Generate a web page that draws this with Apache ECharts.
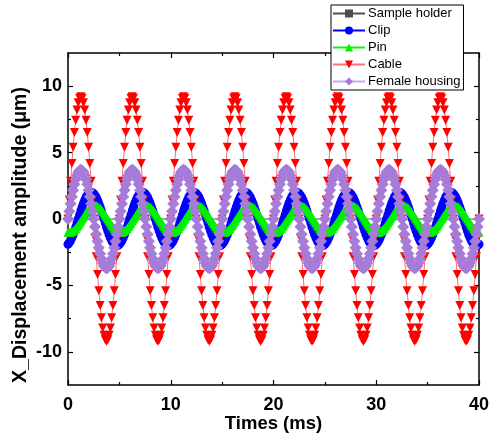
<!DOCTYPE html>
<html>
<head>
<meta charset="utf-8">
<script src="https://cdn.jsdelivr.net/npm/echarts@6/dist/echarts.min.js"></script>
<style>
html,body{margin:0;padding:0;background:#fff;}
#chart{width:490px;height:436px;}
</style>
</head>
<body>
<div id="chart"></div>
<script>
// Sampling grid (ms)
const tStart = 0;
const tStep = 0.125;
const nPoints = 321;

const seriesNames = ['Sample holder', 'Clip', 'Pin', 'Cable', 'Female housing'];

const sampleHolder = [
0,0,0,0,0,0,0,0,0,0,0,0,0,0,0,0,0,0,0,0,0,0,0,0,0,0,0,0,0,0,0,0,0,0,0,0,0,0,0,0,
0,0,0,0,0,0,0,0,0,0,0,0,0,0,0,0,0,0,0,0,0,0,0,0,0,0,0,0,0,0,0,0,0,0,0,0,0,0,0,0,
0,0,0,0,0,0,0,0,0,0,0,0,0,0,0,0,0,0,0,0,0,0,0,0,0,0,0,0,0,0,0,0,0,0,0,0,0,0,0,0,
0,0,0,0,0,0,0,0,0,0,0,0,0,0,0,0,0,0,0,0,0,0,0,0,0,0,0,0,0,0,0,0,0,0,0,0,0,0,0,0,
0,0,0,0,0,0,0,0,0,0,0,0,0,0,0,0,0,0,0,0,0,0,0,0,0,0,0,0,0,0,0,0,0,0,0,0,0,0,0,0,
0,0,0,0,0,0,0,0,0,0,0,0,0,0,0,0,0,0,0,0,0,0,0,0,0,0,0,0,0,0,0,0,0,0,0,0,0,0,0,0,
0,0,0,0,0,0,0,0,0,0,0,0,0,0,0,0,0,0,0,0,0,0,0,0,0,0,0,0,0,0,0,0,0,0,0,0,0,0,0,0,
0,0,0,0,0,0,0,0,0,0,0,0,0,0,0,0,0,0,0,0,0,0,0,0,0,0,0,0,0,0,0,0,0,0,0,0,0,0,0,0,
0];

const clip = [
-1.9,-1.78,-1.62,-1.41,-1.18,-0.91,-0.62,-0.31,0,0.31,0.62,0.91,1.18,1.41,1.62,1.78,1.9,1.98,2,1.98,1.9,1.78,1.62,1.41,1.18,0.91,0.62,0.31,0,-0.31,-0.62,-0.91,-1.18,-1.41,-1.62,-1.78,-1.9,-1.98,-2,-1.98,
-1.9,-1.78,-1.62,-1.41,-1.18,-0.91,-0.62,-0.31,0,0.31,0.62,0.91,1.18,1.41,1.62,1.78,1.9,1.98,2,1.98,1.9,1.78,1.62,1.41,1.18,0.91,0.62,0.31,0,-0.31,-0.62,-0.91,-1.18,-1.41,-1.62,-1.78,-1.9,-1.98,-2,-1.98,
-1.9,-1.78,-1.62,-1.41,-1.18,-0.91,-0.62,-0.31,0,0.31,0.62,0.91,1.18,1.41,1.62,1.78,1.9,1.98,2,1.98,1.9,1.78,1.62,1.41,1.18,0.91,0.62,0.31,0,-0.31,-0.62,-0.91,-1.18,-1.41,-1.62,-1.78,-1.9,-1.98,-2,-1.98,
-1.9,-1.78,-1.62,-1.41,-1.18,-0.91,-0.62,-0.31,0,0.31,0.62,0.91,1.18,1.41,1.62,1.78,1.9,1.98,2,1.98,1.9,1.78,1.62,1.41,1.18,0.91,0.62,0.31,0,-0.31,-0.62,-0.91,-1.18,-1.41,-1.62,-1.78,-1.9,-1.98,-2,-1.98,
-1.9,-1.78,-1.62,-1.41,-1.18,-0.91,-0.62,-0.31,0,0.31,0.62,0.91,1.18,1.41,1.62,1.78,1.9,1.98,2,1.98,1.9,1.78,1.62,1.41,1.18,0.91,0.62,0.31,0,-0.31,-0.62,-0.91,-1.18,-1.41,-1.62,-1.78,-1.9,-1.98,-2,-1.98,
-1.9,-1.78,-1.62,-1.41,-1.18,-0.91,-0.62,-0.31,0,0.31,0.62,0.91,1.18,1.41,1.62,1.78,1.9,1.98,2,1.98,1.9,1.78,1.62,1.41,1.18,0.91,0.62,0.31,0,-0.31,-0.62,-0.91,-1.18,-1.41,-1.62,-1.78,-1.9,-1.98,-2,-1.98,
-1.9,-1.78,-1.62,-1.41,-1.18,-0.91,-0.62,-0.31,0,0.31,0.62,0.91,1.18,1.41,1.62,1.78,1.9,1.98,2,1.98,1.9,1.78,1.62,1.41,1.18,0.91,0.62,0.31,0,-0.31,-0.62,-0.91,-1.18,-1.41,-1.62,-1.78,-1.9,-1.98,-2,-1.98,
-1.9,-1.78,-1.62,-1.41,-1.18,-0.91,-0.62,-0.31,0,0.31,0.62,0.91,1.18,1.41,1.62,1.78,1.9,1.98,2,1.98,1.9,1.78,1.62,1.41,1.18,0.91,0.62,0.31,0,-0.31,-0.62,-0.91,-1.18,-1.41,-1.62,-1.78,-1.9,-1.98,-2,-1.98,
-1.9];

const pin = [
-0.99,-1,-0.99,-0.95,-0.89,-0.81,-0.71,-0.59,-0.45,-0.31,-0.16,0,0.16,0.31,0.45,0.59,0.71,0.81,0.89,0.95,0.99,1,0.99,0.95,0.89,0.81,0.71,0.59,0.45,0.31,0.16,0,-0.16,-0.31,-0.45,-0.59,-0.71,-0.81,-0.89,-0.95,
-0.99,-1,-0.99,-0.95,-0.89,-0.81,-0.71,-0.59,-0.45,-0.31,-0.16,0,0.16,0.31,0.45,0.59,0.71,0.81,0.89,0.95,0.99,1,0.99,0.95,0.89,0.81,0.71,0.59,0.45,0.31,0.16,0,-0.16,-0.31,-0.45,-0.59,-0.71,-0.81,-0.89,-0.95,
-0.99,-1,-0.99,-0.95,-0.89,-0.81,-0.71,-0.59,-0.45,-0.31,-0.16,0,0.16,0.31,0.45,0.59,0.71,0.81,0.89,0.95,0.99,1,0.99,0.95,0.89,0.81,0.71,0.59,0.45,0.31,0.16,0,-0.16,-0.31,-0.45,-0.59,-0.71,-0.81,-0.89,-0.95,
-0.99,-1,-0.99,-0.95,-0.89,-0.81,-0.71,-0.59,-0.45,-0.31,-0.16,0,0.16,0.31,0.45,0.59,0.71,0.81,0.89,0.95,0.99,1,0.99,0.95,0.89,0.81,0.71,0.59,0.45,0.31,0.16,0,-0.16,-0.31,-0.45,-0.59,-0.71,-0.81,-0.89,-0.95,
-0.99,-1,-0.99,-0.95,-0.89,-0.81,-0.71,-0.59,-0.45,-0.31,-0.16,0,0.16,0.31,0.45,0.59,0.71,0.81,0.89,0.95,0.99,1,0.99,0.95,0.89,0.81,0.71,0.59,0.45,0.31,0.16,0,-0.16,-0.31,-0.45,-0.59,-0.71,-0.81,-0.89,-0.95,
-0.99,-1,-0.99,-0.95,-0.89,-0.81,-0.71,-0.59,-0.45,-0.31,-0.16,0,0.16,0.31,0.45,0.59,0.71,0.81,0.89,0.95,0.99,1,0.99,0.95,0.89,0.81,0.71,0.59,0.45,0.31,0.16,0,-0.16,-0.31,-0.45,-0.59,-0.71,-0.81,-0.89,-0.95,
-0.99,-1,-0.99,-0.95,-0.89,-0.81,-0.71,-0.59,-0.45,-0.31,-0.16,0,0.16,0.31,0.45,0.59,0.71,0.81,0.89,0.95,0.99,1,0.99,0.95,0.89,0.81,0.71,0.59,0.45,0.31,0.16,0,-0.16,-0.31,-0.45,-0.59,-0.71,-0.81,-0.89,-0.95,
-0.99,-1,-0.99,-0.95,-0.89,-0.81,-0.71,-0.59,-0.45,-0.31,-0.16,0,0.16,0.31,0.45,0.59,0.71,0.81,0.89,0.95,0.99,1,0.99,0.95,0.89,0.81,0.71,0.59,0.45,0.31,0.16,0,-0.16,-0.31,-0.45,-0.59,-0.71,-0.81,-0.89,-0.95,
-0.99];

const cable = [
0,1.44,2.84,4.18,5.41,6.51,7.44,8.2,8.75,9.09,9.2,9.09,8.75,8.2,7.44,6.51,5.41,4.18,2.84,1.44,0,-1.44,-2.84,-4.18,-5.41,-6.51,-7.44,-8.2,-8.75,-9.09,-9.2,-9.09,-8.75,-8.2,-7.44,-6.51,-5.41,-4.18,-2.84,-1.44,
0,1.44,2.84,4.18,5.41,6.51,7.44,8.2,8.75,9.09,9.2,9.09,8.75,8.2,7.44,6.51,5.41,4.18,2.84,1.44,0,-1.44,-2.84,-4.18,-5.41,-6.51,-7.44,-8.2,-8.75,-9.09,-9.2,-9.09,-8.75,-8.2,-7.44,-6.51,-5.41,-4.18,-2.84,-1.44,
0,1.44,2.84,4.18,5.41,6.51,7.44,8.2,8.75,9.09,9.2,9.09,8.75,8.2,7.44,6.51,5.41,4.18,2.84,1.44,0,-1.44,-2.84,-4.18,-5.41,-6.51,-7.44,-8.2,-8.75,-9.09,-9.2,-9.09,-8.75,-8.2,-7.44,-6.51,-5.41,-4.18,-2.84,-1.44,
0,1.44,2.84,4.18,5.41,6.51,7.44,8.2,8.75,9.09,9.2,9.09,8.75,8.2,7.44,6.51,5.41,4.18,2.84,1.44,0,-1.44,-2.84,-4.18,-5.41,-6.51,-7.44,-8.2,-8.75,-9.09,-9.2,-9.09,-8.75,-8.2,-7.44,-6.51,-5.41,-4.18,-2.84,-1.44,
0,1.44,2.84,4.18,5.41,6.51,7.44,8.2,8.75,9.09,9.2,9.09,8.75,8.2,7.44,6.51,5.41,4.18,2.84,1.44,0,-1.44,-2.84,-4.18,-5.41,-6.51,-7.44,-8.2,-8.75,-9.09,-9.2,-9.09,-8.75,-8.2,-7.44,-6.51,-5.41,-4.18,-2.84,-1.44,
0,1.44,2.84,4.18,5.41,6.51,7.44,8.2,8.75,9.09,9.2,9.09,8.75,8.2,7.44,6.51,5.41,4.18,2.84,1.44,0,-1.44,-2.84,-4.18,-5.41,-6.51,-7.44,-8.2,-8.75,-9.09,-9.2,-9.09,-8.75,-8.2,-7.44,-6.51,-5.41,-4.18,-2.84,-1.44,
0,1.44,2.84,4.18,5.41,6.51,7.44,8.2,8.75,9.09,9.2,9.09,8.75,8.2,7.44,6.51,5.41,4.18,2.84,1.44,0,-1.44,-2.84,-4.18,-5.41,-6.51,-7.44,-8.2,-8.75,-9.09,-9.2,-9.09,-8.75,-8.2,-7.44,-6.51,-5.41,-4.18,-2.84,-1.44,
0,1.44,2.84,4.18,5.41,6.51,7.44,8.2,8.75,9.09,9.2,9.09,8.75,8.2,7.44,6.51,5.41,4.18,2.84,1.44,0,-1.44,-2.84,-4.18,-5.41,-6.51,-7.44,-8.2,-8.75,-9.09,-9.2,-9.09,-8.75,-8.2,-7.44,-6.51,-5.41,-4.18,-2.84,-1.44,
0];

const femaleHousing = [
0,0.58,1.14,1.68,2.17,2.62,2.99,3.3,3.52,3.65,3.7,3.65,3.52,3.3,2.99,2.62,2.17,1.68,1.14,0.58,0,-0.58,-1.14,-1.68,-2.17,-2.62,-2.99,-3.3,-3.52,-3.65,-3.7,-3.65,-3.52,-3.3,-2.99,-2.62,-2.17,-1.68,-1.14,-0.58,
0,0.58,1.14,1.68,2.17,2.62,2.99,3.3,3.52,3.65,3.7,3.65,3.52,3.3,2.99,2.62,2.17,1.68,1.14,0.58,0,-0.58,-1.14,-1.68,-2.17,-2.62,-2.99,-3.3,-3.52,-3.65,-3.7,-3.65,-3.52,-3.3,-2.99,-2.62,-2.17,-1.68,-1.14,-0.58,
0,0.58,1.14,1.68,2.17,2.62,2.99,3.3,3.52,3.65,3.7,3.65,3.52,3.3,2.99,2.62,2.17,1.68,1.14,0.58,0,-0.58,-1.14,-1.68,-2.17,-2.62,-2.99,-3.3,-3.52,-3.65,-3.7,-3.65,-3.52,-3.3,-2.99,-2.62,-2.17,-1.68,-1.14,-0.58,
0,0.58,1.14,1.68,2.17,2.62,2.99,3.3,3.52,3.65,3.7,3.65,3.52,3.3,2.99,2.62,2.17,1.68,1.14,0.58,0,-0.58,-1.14,-1.68,-2.17,-2.62,-2.99,-3.3,-3.52,-3.65,-3.7,-3.65,-3.52,-3.3,-2.99,-2.62,-2.17,-1.68,-1.14,-0.58,
0,0.58,1.14,1.68,2.17,2.62,2.99,3.3,3.52,3.65,3.7,3.65,3.52,3.3,2.99,2.62,2.17,1.68,1.14,0.58,0,-0.58,-1.14,-1.68,-2.17,-2.62,-2.99,-3.3,-3.52,-3.65,-3.7,-3.65,-3.52,-3.3,-2.99,-2.62,-2.17,-1.68,-1.14,-0.58,
0,0.58,1.14,1.68,2.17,2.62,2.99,3.3,3.52,3.65,3.7,3.65,3.52,3.3,2.99,2.62,2.17,1.68,1.14,0.58,0,-0.58,-1.14,-1.68,-2.17,-2.62,-2.99,-3.3,-3.52,-3.65,-3.7,-3.65,-3.52,-3.3,-2.99,-2.62,-2.17,-1.68,-1.14,-0.58,
0,0.58,1.14,1.68,2.17,2.62,2.99,3.3,3.52,3.65,3.7,3.65,3.52,3.3,2.99,2.62,2.17,1.68,1.14,0.58,0,-0.58,-1.14,-1.68,-2.17,-2.62,-2.99,-3.3,-3.52,-3.65,-3.7,-3.65,-3.52,-3.3,-2.99,-2.62,-2.17,-1.68,-1.14,-0.58,
0,0.58,1.14,1.68,2.17,2.62,2.99,3.3,3.52,3.65,3.7,3.65,3.52,3.3,2.99,2.62,2.17,1.68,1.14,0.58,0,-0.58,-1.14,-1.68,-2.17,-2.62,-2.99,-3.3,-3.52,-3.65,-3.7,-3.65,-3.52,-3.3,-2.99,-2.62,-2.17,-1.68,-1.14,-0.58,
0];

const yTickValues = [-10, -5, 0, 5, 10];
const yMinorTickValues = [-7.5, -2.5, 2.5, 7.5];

const times = [];
for (let i = 0; i < nPoints; i++) times.push(tStart + i * tStep);
const pairs = arr => times.map((t, i) => [t, arr[i]]);

const FONT = 'Liberation Sans, Arial, sans-serif';
const chart = echarts.init(document.getElementById('chart'), null, {renderer: 'canvas'});

function yAx(pos, major, showLabel, withName) {
  return {
    type: 'value', position: pos, min: -12.5, max: 12.5,
    axisLine: {show: major, onZero: false, lineStyle: {color: '#000', width: 1.5}},
    axisTick: {show: true, inside: true, length: major ? 5 : 3,
      customValues: major ? yTickValues : yMinorTickValues,
      lineStyle: {color: '#000', width: 1.2}},
    axisLabel: showLabel ? {show: true, inside: false, customValues: yTickValues, margin: 6,
      color: '#000', fontFamily: FONT, fontWeight: 'bold', fontSize: 18} : {show: false},
    splitLine: {show: false},
    name: withName ? 'X_Displacement amplitude (\u03bcm)' : '',
    nameLocation: 'middle', nameGap: 37, nameRotate: 90, nameMoveOverlap: false,
    nameTextStyle: {color: '#000', fontFamily: FONT, fontWeight: 'bold', fontSize: 19.5, padding: [0, 32, 0, 0]}
  };
}

function xAx(pos, showLabel) {
  return {
    type: 'value', position: pos, min: 0, max: 40, interval: 10,
    axisLine: {show: true, onZero: false, lineStyle: {color: '#000', width: 1.5}},
    axisTick: {show: true, inside: true, length: 5, lineStyle: {color: '#000', width: 1.2}},
    minorTick: {show: true, splitNumber: 2, length: 3, lineStyle: {color: '#000', width: 1.2}},
    axisLabel: showLabel ? {show: true, inside: false, margin: 11, color: '#000', fontFamily: FONT,
      fontWeight: 'bold', fontSize: 18} : {show: false},
    splitLine: {show: false},
    name: showLabel ? 'Times (ms)' : '',
    nameLocation: 'middle', nameGap: 29, nameMoveOverlap: false,
    nameTextStyle: {color: '#000', fontFamily: FONT, fontWeight: 'bold', fontSize: 18.5}
  };
}

const styles = [
  {name: seriesNames[0], data: sampleHolder, symbol: 'rect', size: 8, color: '#4d4d4d', line: '#4d4d4d', showSymbol: false},
  {name: seriesNames[1], data: clip, symbol: 'circle', size: 9, color: '#0000ff', line: '#0000ff', showSymbol: true},
  {name: seriesNames[2], data: pin, symbol: 'triangle', size: 9, color: '#00f000', line: '#00ff00', showSymbol: true},
  {name: seriesNames[3], data: cable, symbol: 'path://M0,0 L10,0 L5,9 Z', size: 9, color: '#ff0000', line: '#ff6f6f', showSymbol: true},
  {name: seriesNames[4], data: femaleHousing, symbol: 'diamond', size: 12, color: '#a77bd8', line: '#c9a8ef', showSymbol: true}
];

const option = {
  animation: false,
  backgroundColor: '#fff',
  grid: {left: 68, right: 11, top: 53, bottom: 51, containLabel: false, outerBoundsMode: 'none'},
  legend: {
    orient: 'vertical', left: 331, top: 5, z: 10,
    backgroundColor: '#fff', borderColor: '#000', borderWidth: 1,
    padding: [2, 3, 2, 1], itemWidth: 32, itemHeight: 10, itemGap: 4,
    textStyle: {color: '#000', fontFamily: FONT, fontSize: 13, padding: [0, 0, 0, -2]},
    data: seriesNames
  },
  xAxis: [xAx('bottom', true), xAx('top', false)],
  yAxis: [yAx('left', true, true, true), yAx('right', true, false, false), yAx('left', false, false, false), yAx('right', false, false, false)],
  series: styles.map(s => ({
    type: 'line', name: s.name, data: pairs(s.data),
    xAxisIndex: 0, yAxisIndex: 0,
    symbol: s.symbol, symbolSize: s.size, showSymbol: s.showSymbol,
    itemStyle: {color: s.color},
    lineStyle: {color: s.line, width: 1},
    emphasis: {disabled: true}
  }))
};
chart.setOption(option);
</script>
</body>
</html>
